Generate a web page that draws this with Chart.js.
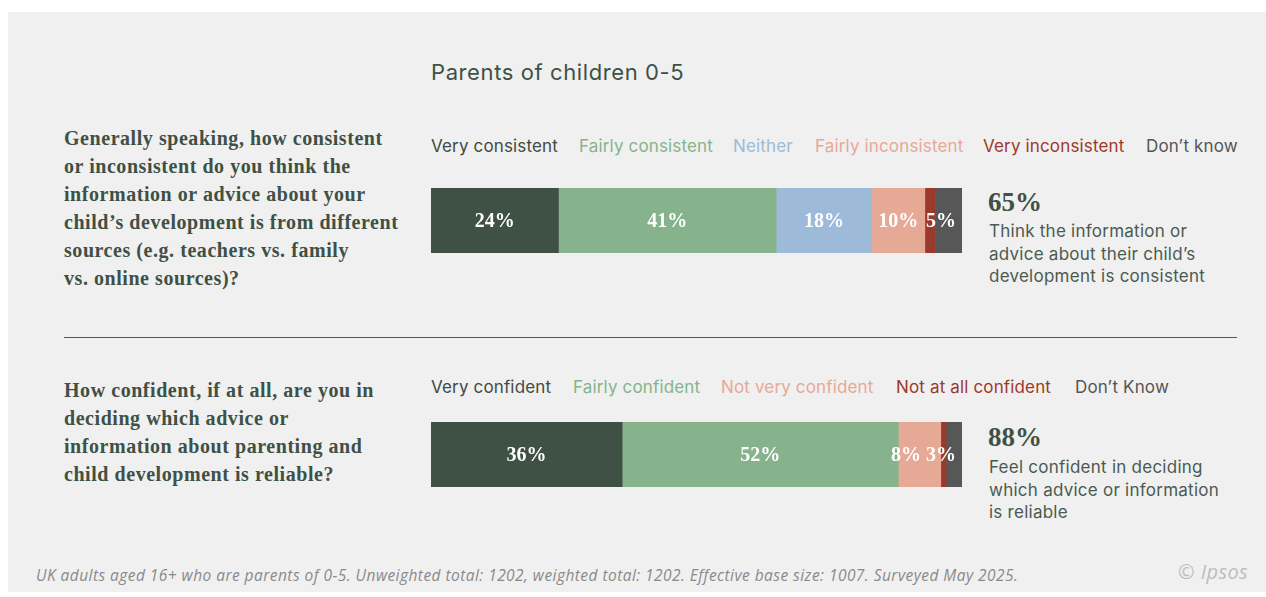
<!DOCTYPE html>
<html>
<head>
<meta charset="utf-8">
<script src="https://cdn.jsdelivr.net/npm/chart.js@4.4.1/dist/chart.umd.min.js"></script>
<style>
  html, body { margin: 0; padding: 0; background: #ffffff; }
  #page { position: relative; width: 1266px; height: 597px; overflow: hidden; background: #ffffff; }
  #panel { position: absolute; left: 8px; top: 12px; width: 1258px; height: 580px; background: #f0f0f0; }
  .abs { position: absolute; white-space: nowrap; }
  .title { font-family: Inter, sans-serif; font-size: 22px; letter-spacing: 0.6px; color: #3f5045; }
  .question { font-family: "Liberation Serif", serif; font-weight: bold; font-size: 20px; letter-spacing: 0.55px; line-height: 28px; color: #3f5045; }
  .legend { font-family: Inter, sans-serif; font-size: 17px; letter-spacing: 0.15px; line-height: 20px; }
  .big { font-family: "Liberation Serif", serif; font-weight: bold; font-size: 27px; line-height: 30px; color: #3f5045; }
  .desc { font-family: Inter, sans-serif; font-size: 17px; letter-spacing: 0.25px; line-height: 22.5px; color: #4b5a50; }
  .rule { position: absolute; left: 64px; top: 337px; width: 1173px; height: 0; border-top: 1.5px solid #555555; }
  .foot { font-family: "Open Sans", sans-serif; font-style: italic; font-size: 15.5px; letter-spacing: 0.45px; color: #8a8a8a; }
  .logo { font-family: "Open Sans", sans-serif; font-style: italic; font-size: 20px; letter-spacing: 0.4px; color: #bdbdbd; }
  .barbox { position: absolute; }
</style>
</head>
<body>
<div id="page">
  <div id="panel"></div>
  <div class="abs title" style="left:431px; top:59px;">Parents of children 0-5</div>

  <div class="abs question" style="left:64px; top:124px;">Generally speaking, how consistent<br>or inconsistent do you think the<br>information or advice about your<br>child’s development is from different<br>sources (e.g. teachers vs. family<br>vs. online sources)?</div>
  <div id="legend1"></div>
  <div class="barbox" style="left:431px; top:188px; width:531px; height:65px;"><canvas id="bar1"></canvas></div>
  <div class="abs big" style="left:988px; top:187px;">65%</div>
  <div class="abs desc" style="left:989px; top:220px;">Think the information or<br>advice about their child’s<br>development is consistent</div>

  <div class="rule"></div>

  <div class="abs question" style="left:64px; top:376px;">How confident, if at all, are you in<br>deciding which advice or<br>information about parenting and<br>child development is reliable?</div>
  <div id="legend2"></div>
  <div class="barbox" style="left:431px; top:422px; width:531px; height:65px;"><canvas id="bar2"></canvas></div>
  <div class="abs big" style="left:988px; top:422px;">88%</div>
  <div class="abs desc" style="left:989px; top:456px;">Feel confident in deciding<br>which advice or information<br>is reliable</div>

  <div class="abs foot" style="left:36px; top:564px;">UK adults aged 16+ who are parents of 0-5. Unweighted total: 1202, weighted total: 1202. Effective base size: 1007. Surveyed May 2025.</div>
  <div class="abs logo" style="left:1178px; top:558px;">© Ipsos</div>
</div>

<script>
// Question 1: consistency of advice from different sources
const consistencyLabels = ['Very consistent', 'Fairly consistent', 'Neither', 'Fairly inconsistent', 'Very inconsistent', 'Don’t know'];
const consistencyValues = [24, 41, 18, 10, 2, 5];
const consistencyColors = ['#3f5045', '#86b38c', '#9dbad9', '#e6a996', '#9b3a2a', '#575757'];
const consistencyLegendX = [431, 579, 733, 815, 983, 1146];

// Question 2: confidence in judging which advice is reliable
const confidenceLabels = ['Very confident', 'Fairly confident', 'Not very confident', 'Not at all confident', 'Don’t Know'];
const confidenceValues = [36, 52, 8, 1, 3];
const confidenceColors = ['#3f5045', '#86b38c', '#e6a996', '#9b3a2a', '#575757'];
const confidenceLegendX = [431, 573, 721, 896, 1075];

// Legend text colours (same hue as the segments)
const consistencyTextColors = ['#3f4a44', '#86b38c', '#9dbad9', '#e6a996', '#9b3a2a', '#555555'];
const confidenceTextColors = ['#3f4a44', '#86b38c', '#e6a996', '#9b3a2a', '#555555'];

function buildLegend(id, labels, colors, xs, top) {
  const host = document.getElementById(id);
  labels.forEach((t, i) => {
    const d = document.createElement('div');
    d.className = 'abs legend';
    d.style.left = xs[i] + 'px';
    d.style.top = top + 'px';
    d.style.color = colors[i];
    d.textContent = t;
    host.appendChild(d);
  });
}
buildLegend('legend1', consistencyLabels, consistencyTextColors, consistencyLegendX, 136);
buildLegend('legend2', confidenceLabels, confidenceTextColors, confidenceLegendX, 377);

// Percentage labels inside the segments; small ones are skipped, the
// rest are kept inside the bar and nudged left so they never collide.
const segmentLabels = {
  id: 'segmentLabels',
  afterDatasetsDraw(chart) {
    const ctx = chart.ctx;
    const right = chart.chartArea.right;
    ctx.save();
    ctx.font = 'bold 20px "Liberation Serif", serif';
    ctx.fillStyle = '#ffffff';
    ctx.textBaseline = 'middle';
    ctx.textAlign = 'left';
    const items = [];
    chart.data.datasets.forEach((ds, di) => {
      const v = ds.data[0];
      if (v < 3) return;
      const el = chart.getDatasetMeta(di).data[0];
      const text = v + '%';
      const w = ctx.measureText(text).width;
      items.push({ text, w, cx: (el.x + el.base) / 2, y: el.y + 1 });
    });
    let limit = right - 6;
    for (let i = items.length - 1; i >= 0; i--) {
      const it = items[i];
      if (it.cx + it.w / 2 > limit) it.cx = limit - it.w / 2;
      limit = it.cx - it.w / 2 - 5;
    }
    items.forEach(it => ctx.fillText(it.text, it.cx - it.w / 2, it.y));
    ctx.restore();
  }
};

function drawBar(canvasId, labels, values, colors) {
  const total = values.reduce((a, b) => a + b, 0);
  new Chart(document.getElementById(canvasId), {
    type: 'bar',
    data: {
      labels: [''],
      datasets: labels.map((l, i) => ({
        label: l,
        data: [values[i]],
        backgroundColor: colors[i],
        borderWidth: 0,
        barPercentage: 1,
        categoryPercentage: 1
      }))
    },
    options: {
      indexAxis: 'y',
      responsive: true,
      maintainAspectRatio: false,
      animation: false,
      layout: { padding: 0 },
      plugins: { legend: { display: false }, tooltip: { enabled: false } },
      scales: {
        x: { stacked: true, min: 0, max: total, display: false },
        y: { stacked: true, display: false }
      }
    },
    plugins: [segmentLabels]
  });
}

drawBar('bar1', consistencyLabels, consistencyValues, consistencyColors);
drawBar('bar2', confidenceLabels, confidenceValues, confidenceColors);
</script>
</body>
</html>
